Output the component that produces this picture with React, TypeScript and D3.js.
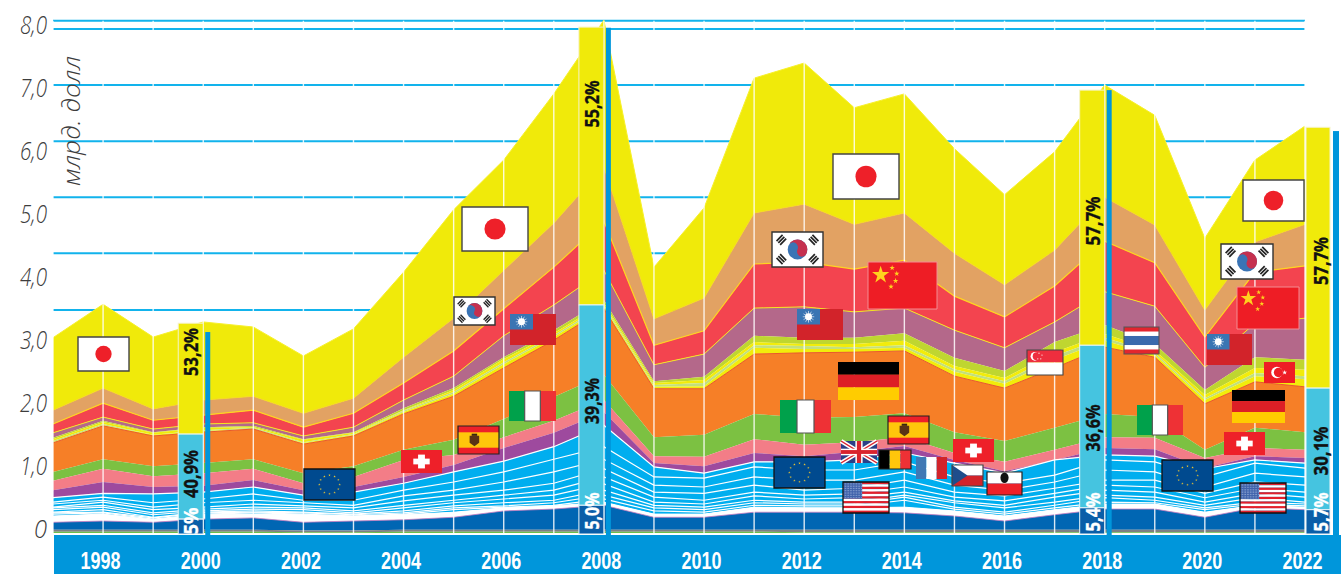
import React from "react";
import * as d3 from "d3";

// ---------- DATA (cumulative stack tops, billions of dollars) ----------
const years = [1997,1998,1999,2000,2001,2002,2003,2004,2005,2006,2007,2008,2009,2010,2011,2012,2013,2014,2015,2016,2017,2018,2019,2020,2021,2022];
const japanTop = [3.10,3.63,3.11,3.35,3.27,2.81,3.24,4.14,5.13,5.92,6.97,8.14,4.22,5.16,7.22,7.46,6.75,6.97,6.10,5.37,6.05,7.11,6.63,4.68,5.92,6.46];
const koreaTop = [1.95,2.30,1.97,2.11,2.17,1.90,2.14,2.79,3.41,4.17,4.92,5.81,3.40,3.73,5.08,5.22,4.90,5.08,4.44,3.94,4.49,5.33,4.89,3.54,4.62,4.90];
const chinaTop = [1.73,2.06,1.79,1.87,1.95,1.68,1.90,2.38,2.89,3.56,4.22,4.95,2.98,3.21,4.27,4.30,4.19,4.33,3.76,3.43,3.92,4.63,4.29,3.11,4.14,4.24];
const taiwanTop = [1.59,1.84,1.65,1.73,1.75,1.54,1.68,2.11,2.49,3.13,3.62,4.17,2.67,2.84,3.57,3.59,3.51,3.57,3.22,2.94,3.35,3.83,3.60,2.63,3.33,3.41];
const limeTop = [1.51,1.78,1.60,1.68,1.70,1.49,1.60,1.98,2.30,2.79,3.22,3.70,2.41,2.48,3.13,3.10,3.10,3.17,2.78,2.57,3.03,3.30,3.00,2.27,2.79,2.75];
const smallTop = [1.49,1.76,1.59,1.67,1.68,1.48,1.59,1.95,2.27,2.76,3.17,3.65,2.38,2.43,3.03,3.00,3.00,3.05,2.65,2.46,2.87,3.16,2.90,2.19,2.62,2.59];
const small2Top = [1.46,1.73,1.56,1.63,1.67,1.44,1.57,1.94,2.24,2.71,3.14,3.62,2.35,2.38,2.98,2.97,2.95,2.98,2.60,2.41,2.81,3.10,2.86,2.14,2.54,2.49];
const small3Top = [1.44,1.71,1.56,1.62,1.65,1.43,1.56,1.92,2.21,2.68,3.11,3.59,2.32,2.33,2.94,2.92,2.92,2.94,2.56,2.37,2.75,3.05,2.83,2.11,2.49,2.44];
const germanyTop = [1.43,1.70,1.54,1.60,1.65,1.41,1.54,1.89,2.17,2.62,3.06,3.56,2.29,2.29,2.84,2.86,2.87,2.89,2.49,2.30,2.62,2.95,2.79,2.05,2.40,2.32];
const italyTop = [0.97,1.17,1.06,1.11,1.17,0.95,1.06,1.32,1.48,1.81,2.16,2.51,1.52,1.56,1.89,1.83,1.84,1.90,1.60,1.46,1.67,1.89,1.84,1.32,1.67,1.60];
const swissTop = [0.83,1.02,0.90,0.95,1.02,0.79,0.89,1.16,1.24,1.52,1.78,2.11,1.22,1.21,1.49,1.40,1.44,1.52,1.27,1.13,1.32,1.52,1.51,1.19,1.35,1.32];
const spainTop = [0.68,0.81,0.73,0.75,0.84,0.68,0.73,0.89,1.08,1.35,1.59,1.92,1.11,1.06,1.27,1.22,1.29,1.38,1.16,0.98,1.16,1.35,1.33,1.03,1.22,1.19];
const euTop = [0.56,0.63,0.62,0.65,0.73,0.60,0.65,0.79,0.97,1.14,1.37,1.71,1.05,0.95,1.13,1.13,1.16,1.27,1.11,0.95,1.16,1.24,1.22,1.02,1.16,1.11];
const eu1 = [0.49,0.57,0.48,0.54,0.62,0.52,0.52,0.68,0.81,0.97,1.17,1.37,0.89,0.87,1.05,1.00,1.00,1.13,0.89,0.79,0.92,1.16,1.13,0.89,1.11,1.03];
const eu2 = [0.46,0.52,0.41,0.48,0.52,0.48,0.44,0.59,0.68,0.81,0.97,1.17,0.76,0.73,0.89,0.84,0.84,0.97,0.76,0.68,0.81,1.00,0.97,0.73,0.95,0.89];
const eu3 = [0.41,0.49,0.37,0.41,0.46,0.43,0.40,0.51,0.60,0.68,0.79,1.02,0.65,0.63,0.76,0.68,0.71,0.84,0.65,0.59,0.71,0.84,0.84,0.63,0.81,0.76];
const eu4 = [0.40,0.44,0.32,0.38,0.41,0.40,0.35,0.44,0.52,0.60,0.68,0.89,0.57,0.52,0.65,0.60,0.62,0.73,0.57,0.51,0.63,0.76,0.73,0.56,0.71,0.65];
const eu5 = [0.37,0.41,0.29,0.35,0.38,0.37,0.32,0.40,0.48,0.54,0.60,0.78,0.49,0.46,0.59,0.54,0.56,0.65,0.51,0.44,0.57,0.68,0.65,0.49,0.63,0.57];
const eu6 = [0.33,0.37,0.25,0.33,0.35,0.33,0.30,0.35,0.43,0.48,0.52,0.68,0.44,0.41,0.52,0.49,0.49,0.60,0.48,0.40,0.49,0.60,0.57,0.44,0.56,0.49];
const eu7 = [0.32,0.33,0.24,0.32,0.33,0.32,0.29,0.32,0.40,0.43,0.48,0.60,0.40,0.37,0.48,0.46,0.46,0.57,0.41,0.33,0.44,0.56,0.52,0.40,0.49,0.46];
const eu8 = [0.30,0.32,0.22,0.30,0.32,0.30,0.27,0.30,0.37,0.41,0.44,0.54,0.35,0.33,0.44,0.43,0.43,0.52,0.38,0.30,0.40,0.49,0.48,0.37,0.46,0.43];
const euBottom = [0.27,0.30,0.21,0.29,0.30,0.29,0.27,0.29,0.33,0.40,0.43,0.49,0.30,0.30,0.41,0.40,0.40,0.41,0.35,0.27,0.37,0.46,0.46,0.33,0.44,0.41];
const usaTop = [0.17,0.19,0.17,0.22,0.24,0.17,0.19,0.21,0.25,0.35,0.38,0.44,0.25,0.25,0.33,0.33,0.33,0.32,0.27,0.19,0.29,0.38,0.38,0.25,0.40,0.37];
const otherTop = [0.05,0.05,0.05,0.05,0.05,0.04,0.04,0.05,0.05,0.05,0.05,0.05,0.05,0.05,0.05,0.05,0.05,0.05,0.05,0.05,0.05,0.05,0.05,0.05,0.05,0.05];
const minorTop = [0.02,0.02,0.02,0.02,0.02,0.01,0.01,0.02,0.02,0.02,0.02,0.02,0.02,0.02,0.02,0.01,0.01,0.01,0.01,0.01,0.01,0.01,0.01,0.01,0.01,0.01];

const shareYears = [2000, 2008, 2018, 2022];
const barTop = [3.33, 8.03, 7.03, 6.44];
const barMidTop = [1.57, 3.62, 2.98, 2.30];
const barLowTop = [0.22, 0.44, 0.40, 0.37];
const stripeTop = [3.19, 8.02, 7.03, 6.38];
const shareHigh = ["53,2%", "55,2%", "57,7%", "57,7%"];
const shareMid = ["40,9%", "39,3%", "36,6%", "30,1%"];
const shareLow = ["5%", "5,0%", "5,4%", "5,7%"];

const yTicks = [0, 1, 2, 3, 4, 5, 6, 7, 8];
const yTickLabels = ["0", "1,0", "2,0", "3,0", "4,0", "5,0", "6,0", "7,0", "8,0"];
const gridValues = [8.13, 8.0, 7.11, 6.22, 5.33, 4.44, 3.54];
const xLabelYears = [1998,2000,2002,2004,2006,2008,2010,2012,2014,2016,2018,2020,2022];

// ---------- LAYOUT ----------
const W = 1341, H = 574;
const x = d3.scaleLinear().domain([1997, 2022]).range([53, 1305]);
const y = d3.scaleLinear().domain([0, 8]).range([533, 29]);
const FONT = "'Open Sans', sans-serif";

const bands: { top: number[]; bottom: number[] | null; fill: string; stroke?: string; sw?: number }[] = [
  { top: japanTop, bottom: koreaTop, fill: "#F0EA0A", stroke: "#F7F02A", sw: 1 },
  { top: koreaTop, bottom: chinaTop, fill: "#E2A263", stroke: "#F7DC1E", sw: 1 },
  { top: chinaTop, bottom: taiwanTop, fill: "#F3444F", stroke: "#FFD51E", sw: 1.2 },
  { top: taiwanTop, bottom: limeTop, fill: "#B4688A", stroke: "#F7E51E", sw: 1 },
  { top: limeTop, bottom: smallTop, fill: "#BFD630" },
  { top: smallTop, bottom: small2Top, fill: "#F2EC0B" },
  { top: small2Top, bottom: small3Top, fill: "#C2E07C" },
  { top: small3Top, bottom: germanyTop, fill: "#F2EC0B" },
  { top: germanyTop, bottom: italyTop, fill: "#F67F27", stroke: "#E9592B", sw: 1 },
  { top: italyTop, bottom: swissTop, fill: "#7CC142" },
  { top: swissTop, bottom: spainTop, fill: "#F37D87" },
  { top: spainTop, bottom: euTop, fill: "#9E4A9E" },
  { top: euTop, bottom: euBottom, fill: "#00AEEF", stroke: "#FFFFFF", sw: 1.2 },
  { top: euBottom, bottom: usaTop, fill: "#FFFFFF" },
  { top: usaTop, bottom: otherTop, fill: "#0066B3", stroke: "#C97DC0", sw: 0.8 },
  { top: otherTop, bottom: minorTop, fill: "#7E7F82" },
  { top: minorTop, bottom: null, fill: "#6DBE4B" },
];
const blueLines = [eu1, eu2, eu3, eu4, eu5, eu6, eu7, eu8];

const areaPath = (top: number[], bottom: number[] | null) =>
  d3.area<number>()
    .x((_, i) => x(years[i]))
    .y1((d) => y(d))
    .y0((_, i) => y(bottom ? bottom[i] : 0))(top) as string;
const linePath = (vals: number[]) =>
  d3.line<number>().x((_, i) => x(years[i])).y((d) => y(d))(vals) as string;

// ---------- FLAGS (drawn in a 60x40 box) ----------
const NS = { vectorEffect: "non-scaling-stroke" } as any;
const R = (a: number, b: number, c: number, d: number, f: string) => <rect x={a} y={b} width={c} height={d} fill={f} />;
const Frame = ({ c = "#333", sw = 1 }: { c?: string; sw?: number }) => (
  <rect x={0} y={0} width={60} height={40} fill="none" stroke={c} strokeWidth={sw} {...NS} />
);
const star = (size: number) => d3.symbol().type(d3.symbolStar).size(size)() as string;

const Japan = () => (<>{R(0, 0, 60, 40, "#fff")}<circle cx={30} cy={20} r={9.6} fill="#EE2029" /><Frame c="#444" sw={1.4} /></>);
const Trigram = ({ cx, cy, rot }: { cx: number; cy: number; rot: number }) => (
  <g transform={`translate(${cx},${cy}) rotate(${rot})`}>
    {[-3, 0, 3].map((o) => <rect key={o} x={-5} y={o - 1} width={10} height={2} fill="#222" />)}
  </g>
);
const Korea = () => (
  <>
    {R(0, 0, 60, 40, "#fff")}
    <circle cx={30} cy={20} r={11.5} fill="#3A74B5" />
    <g transform="rotate(25 30 20)">
      <path d="M18.5,20 A11.5,11.5 0 0 1 41.5,20 A5.75,5.75 0 0 1 30,20 A5.75,5.75 0 0 0 18.5,20 Z" fill="#C5304F" />
    </g>
    <Trigram cx={11} cy={9} rot={-45} /><Trigram cx={49} cy={9} rot={45} />
    <Trigram cx={11} cy={31} rot={45} /><Trigram cx={49} cy={31} rot={-45} />
    <Frame c="#333" sw={1.4} />
  </>
);
const Taiwan = () => (
  <>
    {R(0, 0, 60, 40, "#D2232A")}
    {R(0, 0, 30, 20, "#3A75B3")}
    <circle cx={15} cy={10} r={4.5} fill="#fff" />
    {d3.range(12).map((i) => (
      <line key={i} x1={15} y1={10} x2={15 + 7.5 * Math.cos((i * Math.PI) / 6)} y2={10 + 7.5 * Math.sin((i * Math.PI) / 6)} stroke="#fff" strokeWidth={0.8} />
    ))}
  </>
);
const Italy = () => (
  <>
    {R(0, 0, 20, 40, "#00A14B")}
    {R(40, 0, 20, 40, "#EE3135")}
    <rect x={20} y={0} width={20} height={40} fill="#fff" stroke="#555" strokeWidth={1.2} {...NS} />
  </>
);
const Spain = () => (
  <>
    {R(0, 0, 60, 40, "#EE2029")}
    {R(0, 9, 60, 22, "#FFC60B")}
    <path d="M17,14 L31,14 L31,24 L24,29 L17,24 Z" fill="#5A3316" />
    <rect x={20} y={11} width={8} height={3} fill="#3a2410" />
    <Frame c="#222" sw={1.2} />
  </>
);
const Swiss = () => (
  <>
    {R(0, 0, 60, 40, "#EE2029")}
    {R(25, 8, 10, 24, "#fff")}
    {R(18, 15, 24, 10, "#fff")}
  </>
);
const EU = () => (
  <>
    {R(0, 0, 60, 40, "#004A8F")}
    {d3.range(12).map((i) => (
      <path key={i} d={star(2.6)} fill="#E8C433"
        transform={`translate(${30 + 12 * Math.cos((i * Math.PI) / 6)},${20 + 12 * Math.sin((i * Math.PI) / 6)})`} />
    ))}
    <Frame c="#111" sw={1.3} />
  </>
);
const USA = () => (
  <>
    {d3.range(13).map((i) => R(0, (i * 40) / 13, 60, 40 / 13 + 0.05, i % 2 ? "#fff" : "#E3202C"))}
    {R(0, 0, 25, 21.5, "#3F62AB")}
    {d3.range(9).flatMap((r) => d3.range(12).map((c) => (
      <circle key={`${r}-${c}`} cx={1.2 + c * 2.06} cy={1.5 + r * 2.3} r={0.55} fill="#C8D6EE" />
    )))}
    <Frame c="#111" sw={1.3} />
  </>
);
const China = () => (
  <>
    {R(0, 0, 60, 40, "#EE1D25")}
    <path d={star(70)} fill="#FFD21E" transform="translate(11,11)" />
    {[[21, 5], [25, 10], [24, 16], [20, 21]].map(([a, b], i) => (
      <path key={i} d={star(7)} fill="#FFD21E" transform={`translate(${a},${b})`} />
    ))}
    <Frame c="#F38D93" sw={1} />
  </>
);
const Germany = () => (<>{R(0, 0, 60, 13.4, "#000")}{R(0, 13.4, 60, 13.3, "#DD1F26")}{R(0, 26.7, 60, 13.3, "#FFCC00")}</>);
const UK = () => (
  <>
    {R(0, 0, 60, 40, "#2B3F87")}
    <path d="M0,0 L60,40 M60,0 L0,40" stroke="#fff" strokeWidth={8} />
    <path d="M0,0 L60,40 M60,0 L0,40" stroke="#D9232E" strokeWidth={2.6} />
    {R(24, 0, 12, 40, "#fff")}{R(0, 14, 60, 12, "#fff")}
    {R(26.5, 0, 7, 40, "#D9232E")}{R(0, 16.5, 60, 7, "#D9232E")}
  </>
);
const Belgium = () => (<>{R(0, 0, 20, 40, "#000")}{R(20, 0, 20, 40, "#FFC60B")}{R(40, 0, 20, 40, "#EE3135")}<Frame c="#222" sw={1.2} /></>);
const France = () => (<>{R(0, 0, 20, 40, "#3F79B5")}{R(20, 0, 20, 40, "#fff")}{R(40, 0, 20, 40, "#D2232A")}</>);
const Czech = () => (
  <>
    {R(0, 0, 60, 20, "#fff")}{R(0, 20, 60, 20, "#D2232A")}
    <path d="M0,0 L30,20 L0,40 Z" fill="#1F4E8C" />
    <Frame c="#444" sw={1.2} />
  </>
);
const Crest = () => (
  <>
    {R(0, 0, 60, 20, "#fff")}{R(0, 20, 60, 20, "#EE2029")}
    <ellipse cx={30} cy={10} rx={7} ry={9} fill="#111" />
    <Frame c="#222" sw={1.2} />
  </>
);
const Singapore = () => (
  <>
    {R(0, 0, 60, 20, "#EE2E3E")}{R(0, 20, 60, 20, "#fff")}
    <circle cx={13} cy={10} r={7} fill="#fff" /><circle cx={16} cy={10} r={6.5} fill="#EE2E3E" />
    {[[20, 5], [25, 8], [23, 14], [18, 14]].map(([a, b], i) => <circle key={i} cx={a} cy={b} r={1} fill="#fff" />)}
    <Frame c="#444" sw={1.1} />
  </>
);
const Thailand = () => (
  <>
    {R(0, 0, 60, 40, "#E3252E")}
    {R(0, 6.7, 60, 26.6, "#fff")}
    {R(0, 13.3, 60, 13.4, "#3A6AAD")}
    <Frame c="#555" sw={1.1} />
  </>
);
const Turkey = () => (
  <>
    {R(0, 0, 60, 40, "#EE1D25")}
    <circle cx={25} cy={20} r={11} fill="#fff" /><circle cx={28} cy={20} r={9} fill="#EE1D25" />
    <path d={star(28)} fill="#fff" transform="translate(40,20)" />
  </>
);

const flags: [React.FC, number, number, number, number][] = [
  [Japan, 78, 337, 51, 34], [EU, 304, 469, 51, 31], [Swiss, 401, 450, 41, 23],
  [Japan, 462, 207, 66, 44], [Korea, 454, 297, 41, 28], [Taiwan, 510, 314, 46, 31],
  [Italy, 509, 391, 47, 30], [Spain, 458, 426, 41, 28],
  [Japan, 833, 154, 66, 45], [Korea, 772, 232, 51, 35], [China, 868, 262, 69, 47],
  [Taiwan, 797, 309, 46, 31], [Germany, 838, 362, 61, 38], [Italy, 780, 400, 51, 33],
  [EU, 774, 457, 51, 31], [UK, 841, 441, 36, 22], [USA, 843, 482, 46, 31],
  [Spain, 888, 416, 41, 28], [Belgium, 879, 450, 32, 19], [France, 916, 457, 31, 22],
  [Swiss, 953, 439, 41, 23], [Czech, 952, 465, 31, 21], [Crest, 987, 472, 35, 23],
  [Singapore, 1027, 350, 36, 25], [Thailand, 1124, 327, 35, 27], [Italy, 1137, 405, 46, 30],
  [EU, 1162, 460, 51, 31], [Japan, 1243, 180, 61, 41], [Korea, 1221, 244, 52, 35],
  [China, 1237, 287, 62, 42], [Taiwan, 1207, 334, 45, 31], [Turkey, 1264, 362, 31, 21],
  [Germany, 1232, 390, 53, 33], [Swiss, 1224, 432, 41, 23], [USA, 1240, 483, 46, 30],
];

// Rotated labels in the share columns: [centre y, length]
const highPos = [[352, 48], [104, 47], [221, 49], [261, 48]];
const midPos = [[474, 48], [401, 46], [428, 47], [451, 49]];
const lowPos = [[521, 27], [511, 37], [512, 39], [512, 39]];

const Rot = ({ cx, cy, len, fill, t }: { cx: number; cy: number; len: number; fill: string; t: string }) => (
  <text transform={`translate(${cx},${cy}) rotate(-90)`} textAnchor="middle" dominantBaseline="central"
    textLength={len} lengthAdjust="spacingAndGlyphs" fontFamily={FONT} fontWeight={700} fontSize={20} fill={fill}
    stroke={fill} strokeWidth={0.35}>{t}</text>
);

export default function App() {
  return (
    <svg width={W} height={H} viewBox={`0 0 ${W} ${H}`} style={{ position: "absolute", left: 0, top: 0, background: "#fff" }}>
      {gridValues.map((v) => (
        <line key={v} x1={x(1997)} x2={x(2022)} y1={y(v)} y2={y(v)} stroke="#12B3EC" strokeWidth={2} />
      ))}

      {bands.map((b, i) => (
        <path key={i} d={areaPath(b.top, b.bottom)} fill={b.fill} />
      ))}
      {bands.filter((b) => b.stroke).map((b, i) => (
        <path key={i} d={linePath(b.top)} fill="none" stroke={b.stroke} strokeWidth={b.sw} />
      ))}
      {blueLines.map((l, i) => (
        <path key={i} d={linePath(l)} fill="none" stroke="#fff" strokeWidth={1.2} />
      ))}
      <path d={linePath(euBottom)} fill="none" stroke="#fff" strokeWidth={1} />

      {years.map((yr) => (
        <line key={yr} x1={x(yr)} x2={x(yr)} y1={y(8.13)} y2={534} stroke="#fff" strokeOpacity={0.85} strokeWidth={1.4} />
      ))}

      <rect x={54} y={535} width={W - 54} height={H - 535} fill="#0096DB" />

      {shareYears.map((yr, i) => {
        const last = yr === 2022;
        const bx = last ? x(yr) + 1 : x(yr) - 25;
        const bw = last ? 24 : 25;
        const sx = last ? x(yr) + 28 : x(yr) + 2;
        const sw = last ? 6 : 5;
        const cx = bx + bw / 2 + (last ? 2 : 0);
        return (
          <g key={yr}>
            <rect x={sx} y={y(stripeTop[i])} width={sw} height={535 - y(stripeTop[i])} fill="#0096DB" />
            <rect x={bx} y={y(barTop[i])} width={bw} height={y(barMidTop[i]) - y(barTop[i])} fill="#F0EA0A" stroke="#F6F3C8" strokeWidth={1} />
            <rect x={bx} y={y(barMidTop[i])} width={bw} height={y(barLowTop[i]) - y(barMidTop[i])} fill="#45C4E0" stroke="#EAF7FA" strokeWidth={1} />
            <rect x={bx} y={y(barLowTop[i])} width={bw} height={534 - y(barLowTop[i])} fill="#0A5EA8" stroke="#EAF7FA" strokeWidth={1} />
            <Rot cx={cx} cy={highPos[i][0]} len={highPos[i][1]} fill="#111" t={shareHigh[i]} />
            <Rot cx={cx} cy={midPos[i][0]} len={midPos[i][1]} fill="#111" t={shareMid[i]} />
            <Rot cx={cx} cy={lowPos[i][0]} len={lowPos[i][1]} fill="#fff" t={shareLow[i]} />
          </g>
        );
      })}

      {flags.map(([F, fx, fy, fw, fh], i) => (
        <g key={i} transform={`translate(${fx},${fy}) scale(${fw / 60},${fh / 40})`}><F /></g>
      ))}

      {yTicks.map((t, i) => (
        <text key={t} x={47} y={y(t) + 5} textAnchor="end" fontFamily={FONT} fontStyle="italic" fontWeight={300}
          fontSize={25} fill="#3d3d3d" textLength={t === 0 ? 13 : 27} lengthAdjust="spacingAndGlyphs">{yTickLabels[i]}</text>
      ))}
      <text transform="translate(80,121) rotate(-90)" textAnchor="middle" fontFamily={FONT} fontStyle="italic" fontWeight={300}
        fontSize={24} fill="#3d3d3d" textLength={130} lengthAdjust="spacingAndGlyphs">млрд. долл</text>

      {xLabelYears.map((yr) => (
        <text key={yr} x={x(yr) - 2.5} y={569} textAnchor="middle" fontFamily="'Liberation Sans', sans-serif" fontWeight={700} fontSize={23}
          fill="#fff" textLength={40} lengthAdjust="spacingAndGlyphs">{yr}</text>
      ))}
    </svg>
  );
}
